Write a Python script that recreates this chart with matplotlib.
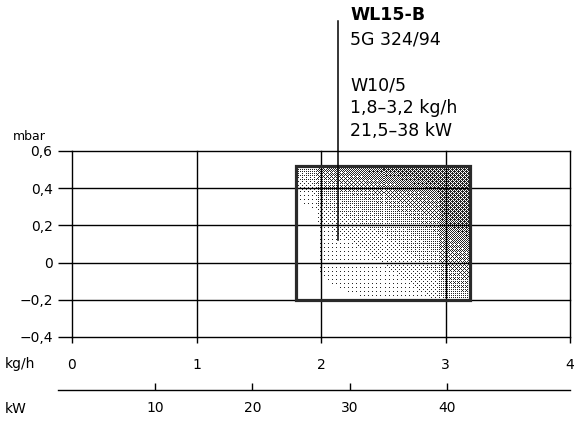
import numpy as np
import matplotlib.pyplot as plt
from matplotlib.patches import Rectangle

plt.rcParams['font.family'] = ['DejaVu Sans']

# axis values
kgh_ticks = [0, 1, 2, 3, 4]
mbar_ticks = [-0.4, -0.2, 0, 0.2, 0.4, 0.6]
mbar_labels = ['\u22120,4', '\u22120,2', '0', '0,2', '0,4', '0,6']
kw_ticks = [10, 20, 30, 40]

# working field of the burner
field_kgh = [1.8, 3.2]
field_mbar = [-0.2, 0.52]

# marker line of the model
marker_kgh = 2.14
marker_mbar_bottom = 0.12

header_lines = ['WL15-B', '5G 324/94', '', 'W10/5', '1,8\u20133,2 kg/h', '21,5\u201338 kW']

W, H = 575, 425
fig = plt.figure(figsize=(W / 100, H / 100), dpi=100)

ax = fig.add_axes([72 / W, (H - 337) / H, (570 - 72) / W, (337 - 151) / H])
ax.set_xlim(0, 4)
ax.set_ylim(-0.4, 0.6)
for s in ax.spines.values():
    s.set_visible(False)
ax.set_xticks(kgh_ticks)
ax.set_xticklabels([str(t) for t in kgh_ticks])
ax.set_yticks(mbar_ticks)
ax.set_yticklabels(mbar_labels)
ax.tick_params(axis='y', length=10, width=1.0, pad=4, labelsize=10)
ax.tick_params(axis='x', length=4, width=1.0, pad=11, labelsize=10)

# grid lines drawn unclipped so the edge lines stay full width
for t in mbar_ticks:
    ax.axhline(t, color='black', linewidth=1.0, clip_on=False, zorder=2)
for t in kgh_ticks:
    ax.axvline(t, color='black', linewidth=1.0, clip_on=False, zorder=2)

# stippled field, ordered dither: denser towards top and right
x0, x1 = field_kgh
y0, y1 = field_mbar
nx, ny = 174, 134
u = np.linspace(0, 1, nx)[None, :]
v = np.linspace(0, 1, ny)[:, None]
dens = (0.02 + 0.4 * u * v + 0.4 * v ** 4 + 0.25 * (u > 0.82) * (0.4 + 0.6 * v)
        + 0.15 * u ** 3 - 0.15 * (u < 0.12) * v)
dens = np.clip(dens, 0, 0.6)
bayer = np.array([[0, 8, 2, 10], [12, 4, 14, 6], [3, 11, 1, 9], [15, 7, 13, 5]]) / 16 + 1 / 32
thr = np.tile(bayer, (ny // 4 + 1, nx // 4 + 1))[:ny, :nx]
dots = (dens > thr).astype(float)
ax.imshow(dots, extent=[x0, x1, y0, y1], origin='lower', cmap='Greys',
          vmin=0, vmax=1.15, aspect='auto', zorder=0.5, interpolation='nearest')
ax.add_patch(Rectangle((x0, y0), x1 - x0, y1 - y0, fill=False,
                       edgecolor='#2a2a2a', linewidth=2.3, zorder=3))

# vertical marker line up to the header
ax.plot([marker_kgh, marker_kgh], [marker_mbar_bottom, 1.3], color='black',
        linewidth=1.1, clip_on=False, zorder=4)

ax.set_xlim(0, 4)
ax.set_ylim(-0.4, 0.6)

# header text
ys = [15, 39, 62, 86, 108, 131]
for i, (t, yy) in enumerate(zip(header_lines, ys)):
    if t:
        fig.text(350 / W, 1 - yy / H, t, fontsize=12.5, va='center', ha='left',
                 fontweight='bold' if i == 0 else 'normal')

fig.text(13 / W, 1 - 136 / H, 'mbar', fontsize=9, va='center', ha='left')
fig.text(5 / W, 1 - 364 / H, 'kg/h', fontsize=10, va='center', ha='left')
fig.text(5 / W, 1 - 409 / H, 'kW', fontsize=10, va='center', ha='left')

# kW scale
ax2 = fig.add_axes([57.7 / W, (H - 390) / H, (570 - 57.7) / W, 0.001])
ax2.set_xlim(0, 52.6)
ax2.set_ylim(0, 1)
for k in ['top', 'left', 'right']:
    ax2.spines[k].set_visible(False)
ax2.spines['bottom'].set_linewidth(1.0)
ax2.set_yticks([])
ax2.set_xticks(kw_ticks)
ax2.set_xticklabels([str(t) for t in kw_ticks])
ax2.tick_params(axis='x', direction='in', length=5, width=1.0, pad=8, labelsize=10)
ax2.patch.set_visible(False)

fig.savefig('out.png', dpi=100)
